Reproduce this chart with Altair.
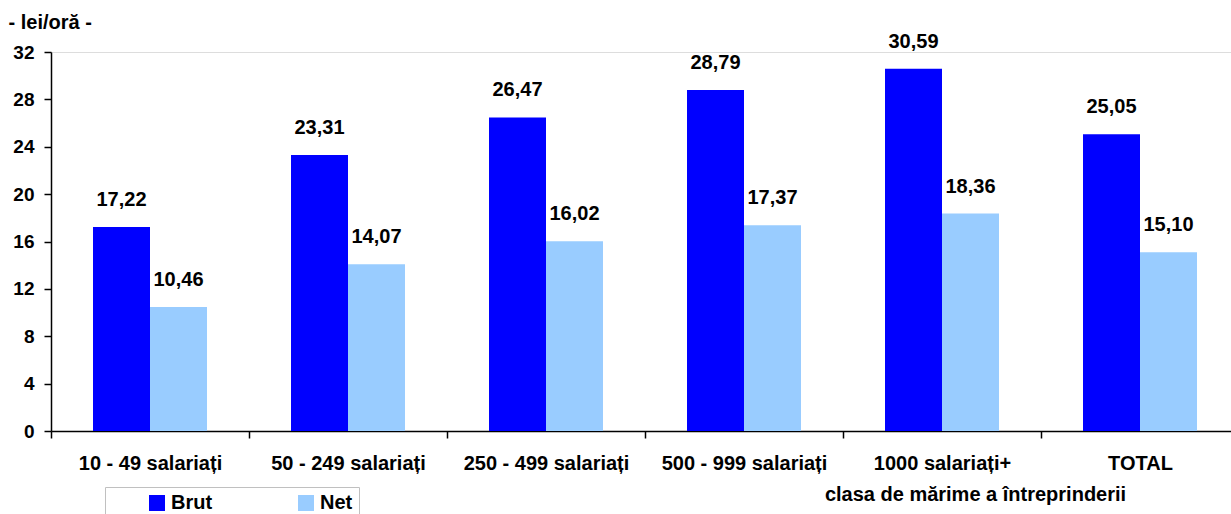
import altair as alt
import pandas as pd

categories = ["10 - 49 salariați", "50 - 249 salariați", "250 - 499 salariați",
              "500 - 999 salariați", "1000 salariați+", "TOTAL"]
series = ["Brut", "Net"]
brut = [17.22, 23.31, 26.47, 28.79, 30.59, 25.05]
net = [10.46, 14.07, 16.02, 17.37, 18.36, 15.10]
colors = ["#0000FF", "#99CCFF"]

rows = []
for c, b, n in zip(categories, brut, net):
    rows.append({"cat": c, "ser": "Brut", "val": b, "lab": f"{b:.2f}".replace(".", ",")})
    rows.append({"cat": c, "ser": "Net", "val": n, "lab": f"{n:.2f}".replace(".", ",")})
df = pd.DataFrame(rows)

FONT = "Liberation Sans"

x = alt.X("cat:N", sort=categories,
          scale=alt.Scale(range=[0, 1188], paddingInner=0, paddingOuter=0),
          axis=alt.Axis(title="clasa de mărime a întreprinderii", labelAngle=0,
                        labelFont=FONT, labelFontSize=20, labelFontWeight="bold",
                        labelColor="black", labelPadding=15, labelLimit=400,
                        tickOffset=-99, labelOffset=99, tickSize=7,
                        tickColor="black", domainColor="black", domainWidth=1.5,
                        tickWidth=1.5,
                        titleFont=FONT, titleFontSize=20, titleFontWeight="bold",
                        titleColor="black", titleX=924, titleY=63,
                        titleBaseline="middle", titleAlign="center"))
xo = alt.XOffset("ser:N", sort=series,
                 scale=alt.Scale(paddingInner=0, paddingOuter=0.737))
y = alt.Y("val:Q", scale=alt.Scale(domain=[0, 32], nice=False),
          axis=alt.Axis(title="- lei/oră -", values=list(range(0, 33, 4)), grid=False,
                        labelFont=FONT, labelFontSize=19, labelFontWeight="bold",
                        labelColor="black", labelPadding=10, tickSize=7,
                        tickColor="black", domainColor="black", domainWidth=1.5,
                        tickWidth=1.5,
                        titleFont=FONT, titleFontSize=20, titleFontWeight="bold",
                        titleColor="black", titleAngle=0, titleX=-43, titleY=-30,
                        titleAlign="left", titleBaseline="middle"))

bars = alt.Chart(df).mark_bar().encode(
    x=x, xOffset=xo, y=y,
    color=alt.Color("ser:N", sort=series, scale=alt.Scale(domain=series, range=colors),
                    legend=alt.Legend(title=" ", titleOrient="left", titlePadding=36,
                                      titleFontSize=10,
                                      orient="none", legendX=54, legendY=435,
                                      direction="horizontal", columns=2, columnPadding=83,
                                      symbolType="square", symbolSize=256,
                                      symbolStrokeWidth=0, symbolOpacity=1,
                                      labelFont=FONT, labelFontSize=20,
                                      labelFontWeight="bold", labelColor="black",
                                      labelOffset=4, padding=6,
                                      strokeColor="#c0c0c0", fillColor="white")),
)

text = alt.Chart(df).mark_text(font=FONT, fontSize=20, fontWeight="bold",
                               color="black", baseline="middle", dy=-27).encode(
    x=alt.X("cat:N", sort=categories), xOffset=alt.XOffset("ser:N", sort=series),
    y="val:Q", text="lab:N")

chart = (bars + text).properties(
    width=1180, height=379,
    autosize=alt.AutoSizeParams(type="none"),
    padding={"left": 51, "top": 52, "right": 0, "bottom": 83},
).configure_view(stroke=None).configure(background="white")

chart.save("out.html", embed_options={"renderer": "svg", "actions": False})
